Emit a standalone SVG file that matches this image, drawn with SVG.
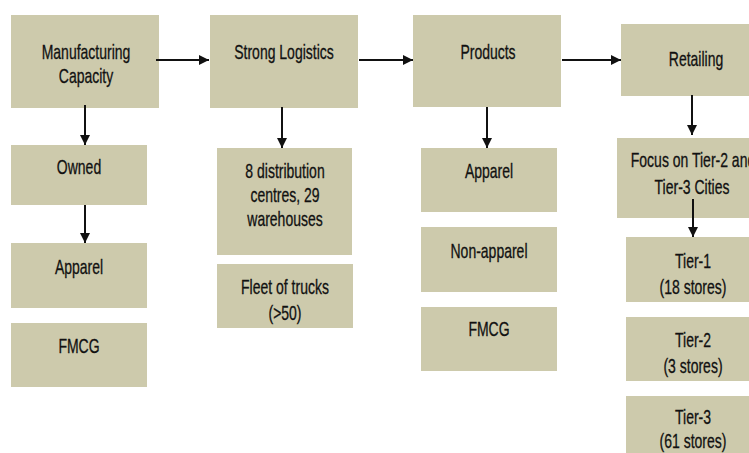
<svg xmlns="http://www.w3.org/2000/svg" width="749" height="453" viewBox="0 0 749 453">
<style>
.box{fill:#CDCAAC;}
.t{font-family:"Liberation Sans","Arial",sans-serif;font-size:20px;fill:#111;text-anchor:middle;stroke:#111;stroke-width:0.3;}
.c{stroke:#111;stroke-width:2;fill:none;}
</style>
<defs>
<marker id="ah" viewBox="0 0 10 10" refX="10" refY="5" markerWidth="10" markerHeight="12" markerUnits="userSpaceOnUse" orient="auto">
<path d="M0,0 L10,5 L0,10 Z" fill="#111"/>
</marker>
</defs>
<rect width="749" height="453" fill="#fff"/>
<g id="manufacturing"><rect class="box" x="11" y="15" width="148" height="93"/><text class="t" transform="matrix(0.7 0 0 1 86 59)">Manufacturing</text><text class="t" transform="matrix(0.7 0 0 1 86 83)">Capacity</text></g>
<g id="logistics"><rect class="box" x="210" y="15" width="148" height="93"/><text class="t" transform="matrix(0.7 0 0 1 284 59)">Strong Logistics</text></g>
<g id="products"><rect class="box" x="413" y="15" width="148" height="92"/><text class="t" transform="matrix(0.7 0 0 1 488 59)">Products</text></g>
<g id="retailing"><rect class="box" x="621" y="24" width="150" height="72"/><text class="t" transform="matrix(0.7 0 0 1 696 66)">Retailing</text></g>
<g id="owned"><rect class="box" x="11" y="145" width="136" height="60"/><text class="t" transform="matrix(0.7 0 0 1 79 174)">Owned</text></g>
<g id="apparel1"><rect class="box" x="11" y="243" width="136" height="65"/><text class="t" transform="matrix(0.7 0 0 1 79 274)">Apparel</text></g>
<g id="fmcg1"><rect class="box" x="11" y="323" width="136" height="64"/><text class="t" transform="matrix(0.7 0 0 1 79 353)">FMCG</text></g>
<g id="distribution"><rect class="box" x="217" y="148" width="135" height="107"/><text class="t" transform="matrix(0.7 0 0 1 285 178)">8 distribution</text><text class="t" transform="matrix(0.7 0 0 1 285 202)">centres, 29</text><text class="t" transform="matrix(0.7 0 0 1 285 226)">warehouses</text></g>
<g id="fleet"><rect class="box" x="217" y="264" width="136" height="64"/><text class="t" transform="matrix(0.7 0 0 1 285 294)">Fleet of trucks</text><text class="t" transform="matrix(0.7 0 0 1 285 320)">(&gt;50)</text></g>
<g id="apparel2"><rect class="box" x="421" y="148" width="136" height="64"/><text class="t" transform="matrix(0.7 0 0 1 489 178)">Apparel</text></g>
<g id="nonapparel"><rect class="box" x="421" y="227" width="136" height="65"/><text class="t" transform="matrix(0.7 0 0 1 489 258)">Non-apparel</text></g>
<g id="fmcg2"><rect class="box" x="421" y="307" width="136" height="64"/><text class="t" transform="matrix(0.7 0 0 1 489 336)">FMCG</text></g>
<g id="focus"><rect class="box" x="617" y="138" width="150" height="80"/><text class="t" transform="matrix(0.7 0 0 1 693 167)">Focus on Tier-2 and</text><text class="t" transform="matrix(0.7 0 0 1 692 194)">Tier-3 Cities</text></g>
<g id="tier1"><rect class="box" x="626" y="237" width="140" height="65"/><text class="t" transform="matrix(0.7 0 0 1 693 268)">Tier-1</text><text class="t" transform="matrix(0.7 0 0 1 693 294)">(18 stores)</text></g>
<g id="tier2"><rect class="box" x="626" y="317" width="140" height="64"/><text class="t" transform="matrix(0.7 0 0 1 693 347)">Tier-2</text><text class="t" transform="matrix(0.7 0 0 1 693 373)">(3 stores)</text></g>
<g id="tier3"><rect class="box" x="626" y="396" width="140" height="70"/><text class="t" transform="matrix(0.7 0 0 1 693 424)">Tier-3</text><text class="t" transform="matrix(0.7 0 0 1 693 448)">(61 stores)</text></g>
<g id="connectors">
<line class="c" x1="156" y1="60" x2="209" y2="60" marker-end="url(#ah)"/>
<line class="c" x1="359" y1="60" x2="413" y2="60" marker-end="url(#ah)"/>
<line class="c" x1="562" y1="60" x2="621" y2="60" marker-end="url(#ah)"/>
<line class="c" x1="85" y1="105" x2="85" y2="145" marker-end="url(#ah)"/>
<line class="c" x1="85" y1="205" x2="85" y2="243" marker-end="url(#ah)"/>
<line class="c" x1="282" y1="107" x2="282" y2="148" marker-end="url(#ah)"/>
<line class="c" x1="487" y1="107" x2="487" y2="148" marker-end="url(#ah)"/>
<line class="c" x1="692" y1="95" x2="692" y2="135" marker-end="url(#ah)"/>
<line class="c" x1="693" y1="199" x2="693" y2="237" marker-end="url(#ah)"/>
</g>
</svg>
